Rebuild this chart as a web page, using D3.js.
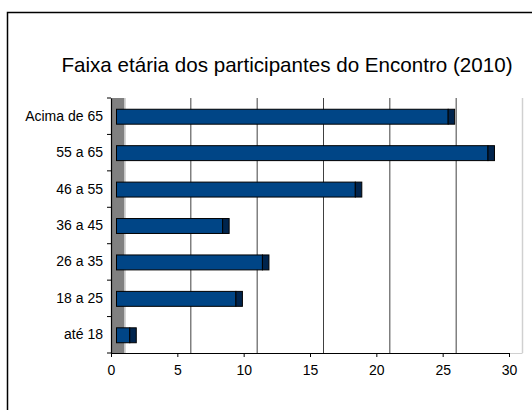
<!DOCTYPE html>
<html>
<head>
<meta charset="utf-8">
<script src="https://cdn.jsdelivr.net/npm/d3@7"></script>
<style>
  body { margin: 0; background: #fff; }
  text { font-family: "Liberation Sans", Arial, sans-serif; fill: #000; }
</style>
</head>
<body>
<div id="chart"></div>
<script>
var width = 532;
var height = 410;

// dados
var faixas = ["Acima de 65", "55 a 65", "46 a 55", "36 a 45", "26 a 35", "18 a 25", "até 18"];
var participantes = [25, 28, 18, 8, 11, 9, 1];
var ticksX = [0, 5, 10, 15, 20, 25, 30];
var titulo = "Faixa etária dos participantes do Encontro (2010)";

var prof = 13.5;   // profundidade 3D da parede
var yTopo = 98, yBase = 353;

var svg = d3.select("#chart")
            .append("svg")
            .attr("width", width)
            .attr("height", height);

// moldura
svg.append("rect")
   .attr("x", 7.5).attr("y", 12.5)
   .attr("width", 540).attr("height", 420)
   .attr("fill", "none")
   .attr("stroke", "#000")
   .attr("stroke-width", 1.5);

svg.append("text")
   .attr("x", 287)
   .attr("y", 72)
   .attr("text-anchor", "middle")
   .style("font-size", "20.6px")
   .text(titulo);

var x = d3.scaleLinear().domain([0, 30]).range([111, 509]);
var y = d3.scaleBand().domain(faixas).range([yTopo, yBase])
          .paddingInner(0.59).paddingOuter(0.295);

// parede lateral (cinza)
svg.append("rect")
   .attr("x", x(0)).attr("y", yTopo)
   .attr("width", prof).attr("height", yBase - yTopo)
   .attr("fill", "#808080");
svg.append("line")
   .attr("x1", x(0) + prof + 0.5).attr("x2", x(0) + prof + 0.5)
   .attr("y1", yTopo).attr("y2", yBase)
   .attr("stroke", "#c8c8c8").attr("stroke-width", 1.5);

// linhas de grade na parede do fundo
var grade = svg.append("g");
ticksX.slice(1, -1).forEach(function(t) {
  grade.append("line")
       .attr("x1", x(t) + prof).attr("x2", x(t) + prof)
       .attr("y1", yTopo).attr("y2", yBase)
       .attr("stroke", "#404040").attr("stroke-width", 1);
});
// borda do fundo
grade.append("line")
     .attr("x1", x(30) + prof).attr("x2", x(30) + prof)
     .attr("y1", yTopo).attr("y2", yBase)
     .attr("stroke", "#d0d0d0").attr("stroke-width", 1.5);
grade.append("line")
     .attr("x1", x(30)).attr("x2", x(30) + prof)
     .attr("y1", yBase + 0.5).attr("y2", yBase + 0.5)
     .attr("stroke", "#d0d0d0").attr("stroke-width", 1);

// barras
var barras = svg.append("g");
faixas.forEach(function(f, i) {
  var v = participantes[i];
  barras.append("rect")
        .attr("x", x(0) + 5.5)
        .attr("y", y(f) + 0.5)
        .attr("width", x(v) - x(0))
        .attr("height", y.bandwidth())
        .attr("fill", "#004586")
        .attr("stroke", "#000").attr("stroke-width", 1);
  barras.append("rect")
        .attr("x", x(v) + 5.5)
        .attr("y", y(f) + 0.5)
        .attr("width", 6.5)
        .attr("height", y.bandwidth())
        .attr("fill", "#00244d")
        .attr("stroke", "#000").attr("stroke-width", 1);
});

// eixo X
var eixoX = svg.append("g")
   .attr("transform", "translate(0," + yBase + ")")
   .call(d3.axisBottom(x).tickValues(ticksX).tickSize(4).tickPadding(8).tickSizeOuter(0));
eixoX.selectAll("text").style("font-size", "14px");

// eixo Y
var eixoY = svg.append("g")
   .attr("transform", "translate(" + x(0) + ",0)")
   .call(d3.axisLeft(y).tickSize(0).tickPadding(8).tickSizeOuter(0));
eixoY.selectAll("text").style("font-size", "14px");

// marcas entre categorias
for (var i = 0; i <= faixas.length; i++) {
  var yy = yTopo + i * y.step();
  if (i == faixas.length) yy = yBase;
  svg.append("line")
     .attr("x1", x(0) - 4).attr("x2", x(0))
     .attr("y1", yy).attr("y2", yy)
     .attr("stroke", "#000").attr("stroke-width", 1);
}

svg.selectAll(".domain").attr("stroke", "#000").attr("stroke-width", 1.2);
svg.selectAll(".tick line").attr("stroke", "#000");
</script>
</body>
</html>
